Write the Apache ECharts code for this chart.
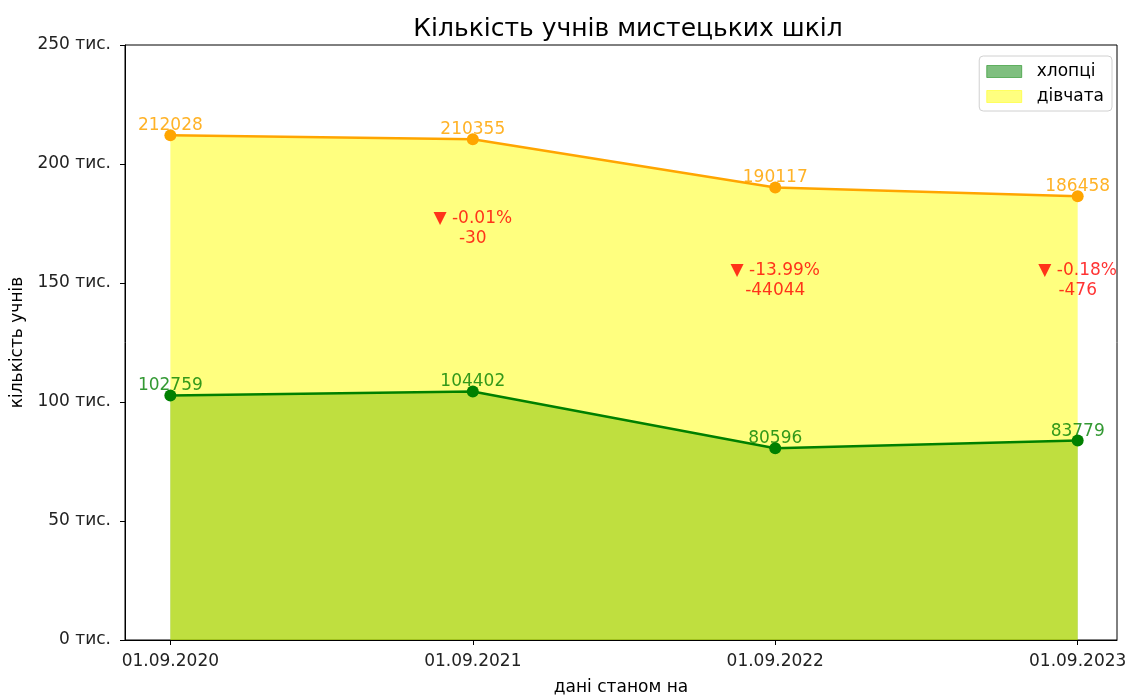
<!DOCTYPE html>
<html>
<head>
<meta charset="utf-8">
<script src="https://cdn.jsdelivr.net/npm/echarts@6/dist/echarts.min.js"></script>
<style>
  html, body { margin: 0; padding: 0; background: #fff; }
  #chart { width: 1126px; height: 695px; }
</style>
</head>
<body>
<div id="chart"></div>
<script>
// data
var dates = ["01.09.2020", "01.09.2021", "01.09.2022", "01.09.2023"];
var boys = [102759, 104402, 80596, 83779];
var total = [212028, 210355, 190117, 186458];
var changePct = [null, "-0.01%", "-13.99%", "-0.18%"];
var changeAbs = [null, -30, -44044, -476];
var changeY = [null, 173000, 151000, 151000];
var yTicks = [0, 50000, 100000, 150000, 200000, 250000];

var font = "DejaVu Sans";
var idx = dates.map(function (d, i) { return i; });

function pts(arr) {
  return arr.map(function (v, i) { return [i, v]; });
}

var notes = [];
changePct.forEach(function (p, i) {
  if (p !== null) notes.push({ value: [i, changeY[i]], pct: p, abs: changeAbs[i] });
});

var chart = echarts.init(document.getElementById("chart"));
var option = {
  animation: false,
  textStyle: { fontFamily: font },
  title: {
    text: "Кількість учнів мистецьких шкіл",
    left: 623,
    textAlign: "center",
    top: 12,
    textStyle: { fontFamily: font, fontSize: 25, fontWeight: "normal", color: "#000" }
  },
  legend: {
    orient: "vertical",
    right: 14,
    top: 56,
    icon: "rect",
    itemWidth: 35,
    itemHeight: 12,
    itemGap: 8,
    padding: [7, 8, 6, 7],
    backgroundColor: "#fff",
    borderColor: "#d0d0d0",
    borderWidth: 1,
    borderRadius: 4,
    textStyle: { fontFamily: font, fontSize: 17, color: "#000", padding: [0, 0, 0, 10] },
    data: [
      { name: "хлопці", itemStyle: { color: "rgba(0,128,0,0.5)", borderColor: "rgba(0,128,0,0.5)", borderWidth: 1 } },
      { name: "дівчата", itemStyle: { color: "rgba(255,255,0,0.5)", borderColor: "rgba(255,255,0,0.5)", borderWidth: 1 } }
    ]
  },
  grid: {
    left: 125, right: 9, top: 45, bottom: 55,
    outerBoundsMode: "none",
    containLabel: false,
    show: true, borderColor: "#000", borderWidth: 1
  },
  xAxis: {
    type: "value",
    min: -0.15,
    max: 3.13,
    name: "дані станом на",
    nameLocation: "middle",
    nameGap: 39,
    nameTextStyle: { fontFamily: font, fontSize: 17, color: "#000" },
    axisLine: { onZero: false, lineStyle: { color: "#000" } },
    axisTick: { show: true, inside: false, length: 5, customValues: idx, lineStyle: { color: "#000" } },
    axisLabel: {
      customValues: idx,
      margin: 13,
      fontSize: 17,
      color: "#222",
      formatter: function (v) { return dates[Math.round(v)]; }
    },
    splitLine: { show: false }
  },
  yAxis: {
    type: "value",
    min: 0,
    max: 250000,
    interval: 50000,
    name: "кількість учнів",
    nameLocation: "middle",
    nameGap: 98,
    nameRotate: 90,
    nameTextStyle: { fontFamily: font, fontSize: 17, color: "#000" },
    axisLine: { show: true, onZero: false, lineStyle: { color: "#000" } },
    axisTick: { show: true, inside: false, length: 5, lineStyle: { color: "#000" } },
    axisLabel: {
      margin: 14,
      fontSize: 17,
      color: "#222",
      formatter: function (v) { return yTicks.indexOf(v) >= 0 ? (v / 1000) + " тис." : ""; }
    },
    splitLine: { show: false }
  },
  series: [
    {
      name: "хлопці",
      type: "line",
      data: pts(boys),
      symbol: "none",
      lineStyle: { width: 0 },
      itemStyle: { color: "rgba(0,128,0,0.5)" },
      areaStyle: { color: "rgba(0,128,0,0.5)", opacity: 1 },
      silent: true,
      z: 1
    },
    {
      name: "дівчата",
      type: "line",
      data: pts(total),
      symbol: "none",
      lineStyle: { width: 0 },
      itemStyle: { color: "rgba(255,255,0,0.5)" },
      areaStyle: { color: "rgba(255,255,0,0.5)", opacity: 1 },
      silent: true,
      z: 2
    },
    {
      name: "boys_line",
      type: "line",
      data: pts(boys),
      symbol: "circle",
      symbolSize: 12,
      lineStyle: { color: "#008000", width: 2.5 },
      itemStyle: { color: "#008000" },
      label: {
        show: true,
        position: "top",
        distance: -5,
        fontSize: 17,
        color: "rgba(0,128,0,0.8)",
        formatter: function (p) { return String(p.value[1]); }
      },
      z: 3
    },
    {
      name: "total_line",
      type: "line",
      data: pts(total),
      symbol: "circle",
      symbolSize: 12,
      lineStyle: { color: "#ffa500", width: 2.5 },
      itemStyle: { color: "#ffa500" },
      label: {
        show: true,
        position: "top",
        distance: -5,
        fontSize: 17,
        color: "rgba(255,165,0,0.85)",
        formatter: function (p) { return String(p.value[1]); }
      },
      z: 3
    },
    {
      name: "notes",
      type: "scatter",
      data: notes,
      symbolSize: 0,
      silent: true,
      label: {
        show: true,
        position: "inside",
        fontSize: 17,
        lineHeight: 20,
        align: "center",
        color: "#ff0000",
        formatter: function (p) { return "▼ " + p.data.pct + "\n" + p.data.abs; }
      },
      z: 4
    }
  ]
};
chart.setOption(option);
</script>
</body>
</html>
